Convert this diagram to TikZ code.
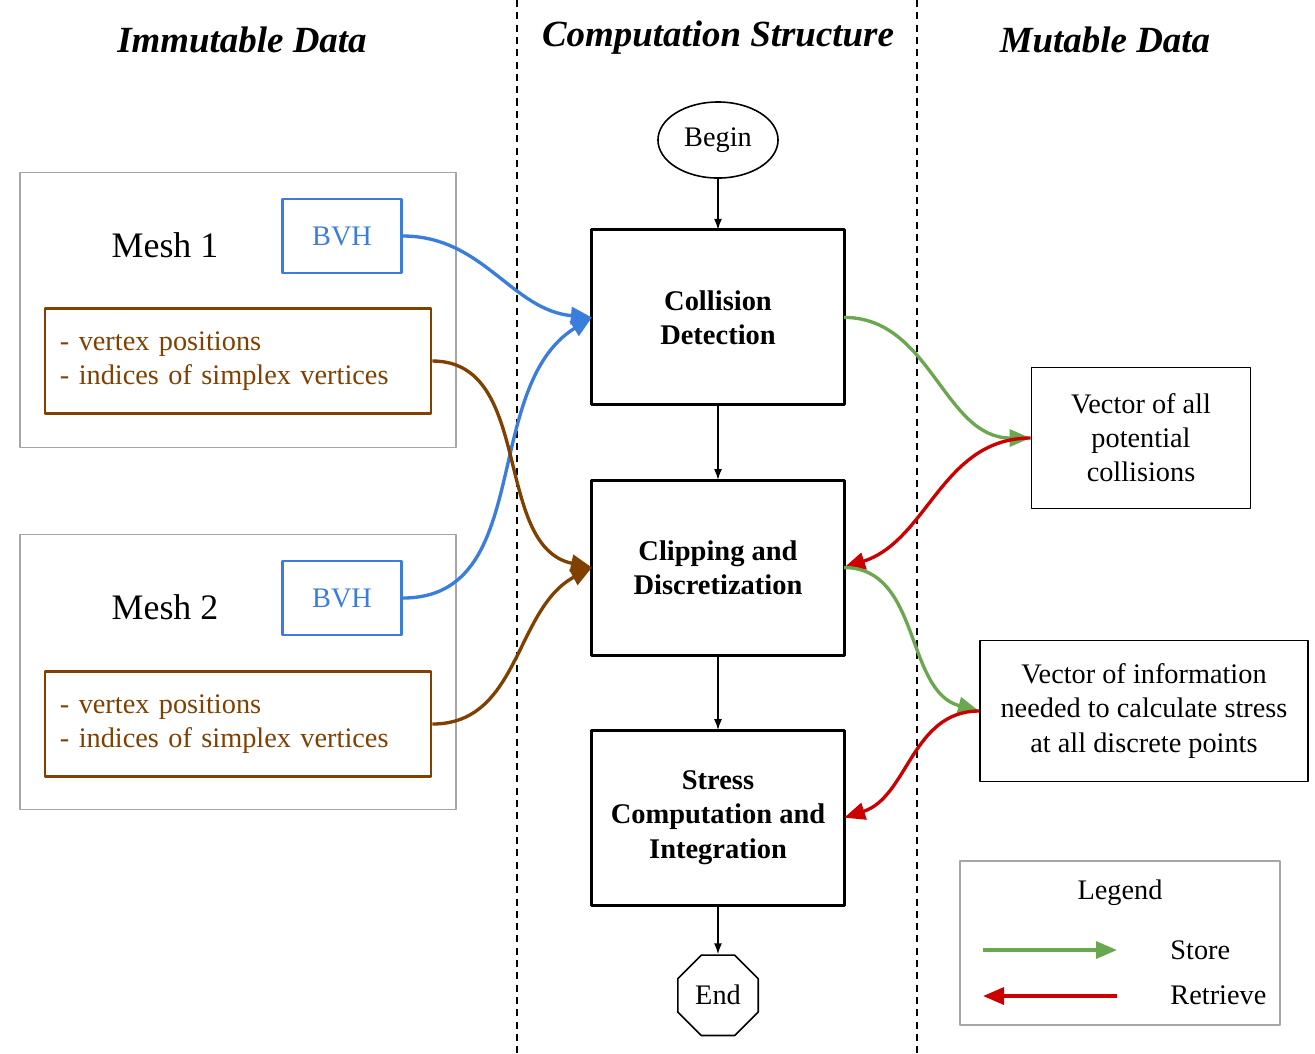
\documentclass[tikz,border=0pt]{standalone}
\usepackage{fontspec}
\setmainfont{Liberation Serif}
\usetikzlibrary{%
  arrows.meta,%
  shapes.geometric,%
  positioning
}

\definecolor{bvhblue}{RGB}{59,125,221}
\definecolor{meshbrown}{RGB}{127,64,0}
\definecolor{storegreen}{RGB}{106,168,79}
\definecolor{retrievered}{RGB}{204,0,0}
\definecolor{framegray}{RGB}{166,166,166}

\begin{document}
\begin{tikzpicture}[
    x=0.01cm,y=-0.01cm,
    >={Latex[length=1.1mm,width=0.8mm]},
    line join=round,
    body/.style={font=\fontsize{8.05}{9.7}\selectfont},
    title/.style={font=\fontsize{10.5}{12}\selectfont\bfseries\itshape},
    process/.style={rectangle,draw,line width=0.85pt,outer sep=0pt,
        minimum width=2.52cm,minimum height=1.75cm,align=center,
        font=\fontsize{8.1}{9.7}\selectfont\bfseries},
    startstop/.style={ellipse,draw,line width=0.45pt,inner sep=0pt,
        minimum width=1.2cm,minimum height=0.76cm,body},
    octagon/.style={regular polygon,regular polygon sides=8,draw,
        line width=0.45pt,inner sep=0pt,minimum size=0.87cm,body},
    meshframe/.style={rectangle,draw=framegray,line width=0.5pt,
        minimum width=4.35cm,minimum height=2.75cm},
    meshlabel/.style={font=\fontsize{10.2}{12}\selectfont},
    bvhbox/.style={rectangle,draw=bvhblue,text=bvhblue,line width=0.75pt,
        minimum width=1.19cm,minimum height=0.74cm,body},
    databox/.style={rectangle,draw=meshbrown,text=meshbrown,line width=0.75pt,
        text width=3.56cm,inner xsep=0.15cm,minimum height=1.05cm,
        align=left,body},
    storage/.style={rectangle,draw,line width=0.5pt,minimum height=1.41cm,
        align=center,body},
    legendbox/.style={rectangle,draw=framegray,line width=0.5pt,
        minimum width=3.2cm,minimum height=1.64cm},
    dataflow/.style={line width=0.95pt,-{Triangle[length=2.1mm,width=1.7mm]}}
  ]

    \useasboundingbox (0,0) rectangle (1315,1053);

    % column separators
    \draw [dashed,dash pattern=on 2pt off 1.5pt,line width=0.4pt] (517,0) -- (517,1053);
    \draw [dashed,dash pattern=on 2pt off 1.5pt,line width=0.4pt] (917,0) -- (917,1053);

    \node [title] (immutable) at (242,40) {Immutable Data};
    \node [title] (structure) at (718,38) {Computation Structure};
    \node [title] (mutable)   at (1105,40) {Mutable Data};

    % computation structure
    \node [startstop] (begin) at (718,140) {Begin};
    \node [process, below=5.1mm of begin]  (detect) {Collision\\Detection};
    \node [process, below=7.5mm of detect] (clip)   {Clipping and\\Discretization};
    \node [process, below=7.5mm of clip]   (stress) {Stress\\Computation and\\Integration};
    \node [octagon, below=4.9mm of stress] (end)    {End};

    \begin{scope}[->,line width=0.45pt]
        \draw (begin)  -- (detect);
        \draw (detect) -- (clip);
        \draw (clip)   -- (stress);
        \draw (stress) -- (end);
    \end{scope}

    % immutable data
    \node [meshframe] (mesh1)  at (238,310) {};
    \node [meshlabel] (label1) at (165,245) {Mesh 1};
    \node [bvhbox]    (bvh1)   at (342,236) {BVH};
    \node [databox]   (data1)  at (238,361) {- vertex positions\\- indices of simplex vertices};

    \node [meshframe] (mesh2)  at (238,672) {};
    \node [meshlabel] (label2) at (165,607) {Mesh 2};
    \node [bvhbox]    (bvh2)   at (342,598) {BVH};
    \node [databox]   (data2)  at (238,724) {- vertex positions\\- indices of simplex vertices};

    % mutable data
    \node [storage, minimum width=2.19cm] (collisions) at (1141,438)
        {Vector of all\\potential\\collisions};
    \node [storage, minimum width=3.28cm] (stressinfo) at (1144,711)
        {Vector of information\\needed to calculate stress\\at all discrete points};

    \begin{scope}[dataflow]
        \draw [bvhblue]     (bvh1.east)       to[out=0,in=175]   (detect.west);
        \draw [bvhblue]     (bvh2.east)       to[out=0,in=212]   (detect.west);
        \draw [meshbrown]   (data1.east)      to[out=0,in=168]   (clip.west);
        \draw [meshbrown]   (data2.east)      to[out=0,in=208]   (clip.west);
        \draw [storegreen]  (detect.east)     to[out=0,in=180]   (collisions.west);
        \draw [retrievered] (collisions.west) to[out=180,in=18]  (clip.east);
        \draw [storegreen]  (clip.east)       to[out=0,in=165]   (stressinfo.west);
        \draw [retrievered] (stressinfo.west) to[out=180,in=18]  (stress.east);
    \end{scope}

    % legend
    \node [legendbox] (legend) at (1120,943) {};
    \node [body] (legendtitle) at (1120,893) {Legend};
    \node [body,anchor=west] (storelabel)    at (1158,950) {Store};
    \node [body,anchor=west] (retrievelabel) at (1158,995) {Retrieve};
    \coordinate (storefrom)    at (983,950);
    \coordinate (storeto)      at (1117,950);
    \coordinate (retrievefrom) at (1117,996);
    \coordinate (retrieveto)   at (983,996);
    \draw [dataflow,storegreen]  (storefrom)    -- (storeto);
    \draw [dataflow,retrievered] (retrievefrom) -- (retrieveto);
\end{tikzpicture}
\end{document}
